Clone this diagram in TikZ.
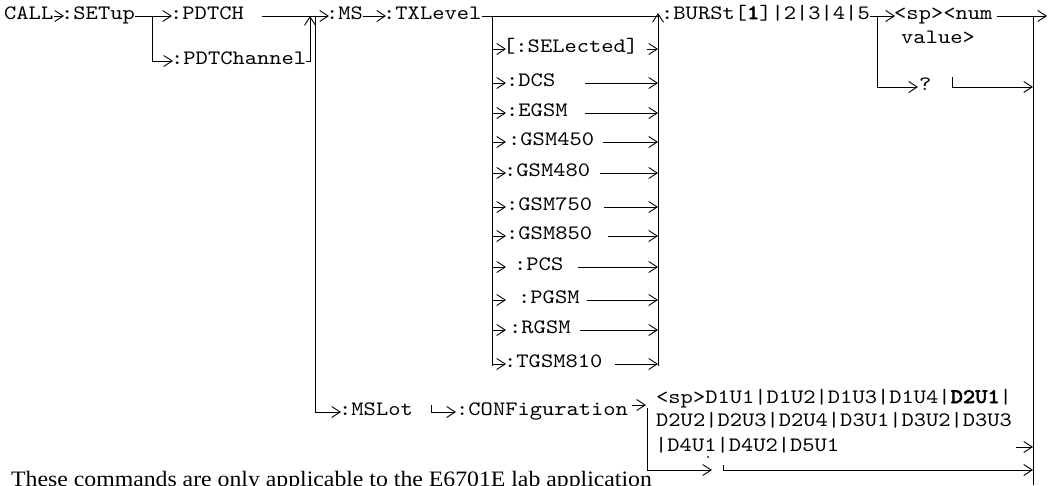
\documentclass[tikz,border=0pt]{standalone}
\usepackage{fontspec}
\newfontfamily\cour[FakeStretch=1.14]{lmmono10-regular.otf}
\newfontfamily\courbf[FakeStretch=1.14,FakeBold=3]{lmmono10-regular.otf}
\newfontfamily\notefont[FakeStretch=1.08]{Liberation Serif}
\usetikzlibrary{arrows.meta}
\begin{document}
\begin{tikzpicture}[x=1pt,y=-1pt,
  txt/.style={anchor=west,inner sep=0pt,text height=0.6em,text depth=0pt,
    font=\cour\fontsize{20.5}{24}\selectfont},
  wire/.style={line width=0.9pt},
  arr/.style={line width=0.9pt,-{Straight Barb[length=8.5pt,width=11pt]}},
]
\useasboundingbox (0,0) rectangle (1049,485);
% ---- text nodes
\node[txt] (call) at (4,16) {CALL};
\node[txt] (setup) at (61,16) {:SETup};
\node[txt] (pdtch) at (170,16) {:PDTCH};
\node[txt] (pdtchan) at (171,61) {:PDTChannel};
\node[txt] (ms) at (326,16) {:MS};
\node[txt] (txl) at (383,16) {:TXLevel};
\node[txt] (burst) at (661,16) {:BURSt[{\courbf 1}]|2|3|4|5};
\node[txt] (num) at (894,16) {<sp><num};
\node[txt] (val) at (901,40) {value>};
\node[txt] (q) at (919,87) {?};
\node[txt] (sel) at (503,49) {[:SELected]};
\node[txt] (dcs) at (506,83) {:DCS};
\node[txt] (egsm) at (506,113) {:EGSM};
\node[txt] (g450) at (508,142) {:GSM450};
\node[txt] (g480) at (504,173) {:GSM480};
\node[txt] (g750) at (506,207) {:GSM750};
\node[txt] (g850) at (506,236) {:GSM850};
\node[txt] (pcs) at (514,267) {:PCS};
\node[txt] (pgsm) at (518,300) {:PGSM};
\node[txt] (rgsm) at (509,330) {:RGSM};
\node[txt] (tgsm) at (504,364) {:TGSM810};
\node[txt] (mslot) at (339,412) {:MSLot};
\node[txt] (conf) at (456,412) {:CONFiguration};
\node[txt] (c1) at (656,400) {<sp>D1U1|D1U2|D1U3|D1U4|{\courbf D2U1}|};
\node[txt] (c2) at (656,423) {D2U2|D2U3|D2U4|D3U1|D3U2|D3U3};
\node[txt] (c3) at (655,448) {|D4U1|D4U2|D5U1};
\node[anchor=base west,inner sep=0pt,font=\notefont\fontsize{22}{26}\selectfont] (note) at (11,486)
  {These commands are only applicable to the E6701E lab application};
% ---- junction coordinates
\coordinate (b1) at (152,16);
\coordinate (pj) at (310,16);
\coordinate (bt) at (315,16);
\coordinate (tl) at (492,16);
\coordinate (tlb) at (492,366);
\coordinate (tr) at (658,13);
\coordinate (trb) at (658,366);
\coordinate (ax) at (506,0);
\coordinate (bb) at (877,16);
\coordinate (nr) at (1047,16);
\coordinate (rt) at (1033,16);
\coordinate (rb) at (1033,485);
\coordinate (qt) at (952,77);
\coordinate (mt) at (431,405);
\coordinate (ca0) at (632,405);
\coordinate (ca) at (646,405);
\coordinate (cv) at (647,408);
\coordinate (cb) at (712,470);
\coordinate (ct) at (723,465);
\coordinate (c3a) at (1016,447);
% ---- connectors
\draw[arr] ([xshift=1pt]call.east) -- ([xshift=3pt]setup.west);
\draw[arr] (setup.east) -- ([xshift=2pt]pdtch.west);
\draw[arr] (b1) |- ([xshift=2pt]pdtchan.west);
\draw[arr] ([xshift=18pt]pdtch.east) -- ([xshift=3pt]ms.west);
\draw[arr] (pdtchan.east) -| (pj);
\draw[arr] (bt) |- ([xshift=2pt]mslot.west);
\draw[arr] (ms.east) -- ([xshift=3pt]txl.west);
\draw[wire] (txl.east) -- (tr |- txl.east);
\draw[wire] (tl) -- (tlb);
\draw[arr] (trb) -- (tr);
\foreach \n/\s in {sel/647,dcs/585,egsm/585,g450/603,g480/600,g750/604,g850/608,pcs/578,pgsm/587,rgsm/580,tgsm/615}{
  \draw[arr] (tl |- \n.west) -- (ax |- \n.west);
  \path (\s,0) coordinate (sx);
  \draw[arr] (sx |- \n.east) -- (tr |- \n.east);
}
\draw[arr] (burst.east) -- ([xshift=1pt]num.west);
\draw[arr] (bb) |- ([xshift=-1pt]q.west);
\draw[arr] ([xshift=4pt]num.east) -- (nr);
\draw[wire] (rt) -- (rb);
\draw[arr] (qt) |- (rb |- q.east);
\draw[arr] (mt) |- (conf.west);
\draw[arr] (ca0) -- (ca);
\draw[arr] (cv) |- (cb);
\draw[arr] (ct) |- (rb |- cb);
\draw[arr] (c3a) -- (rb |- c3a);
\fill (708,457) circle (1pt);
\end{tikzpicture}
\end{document}
